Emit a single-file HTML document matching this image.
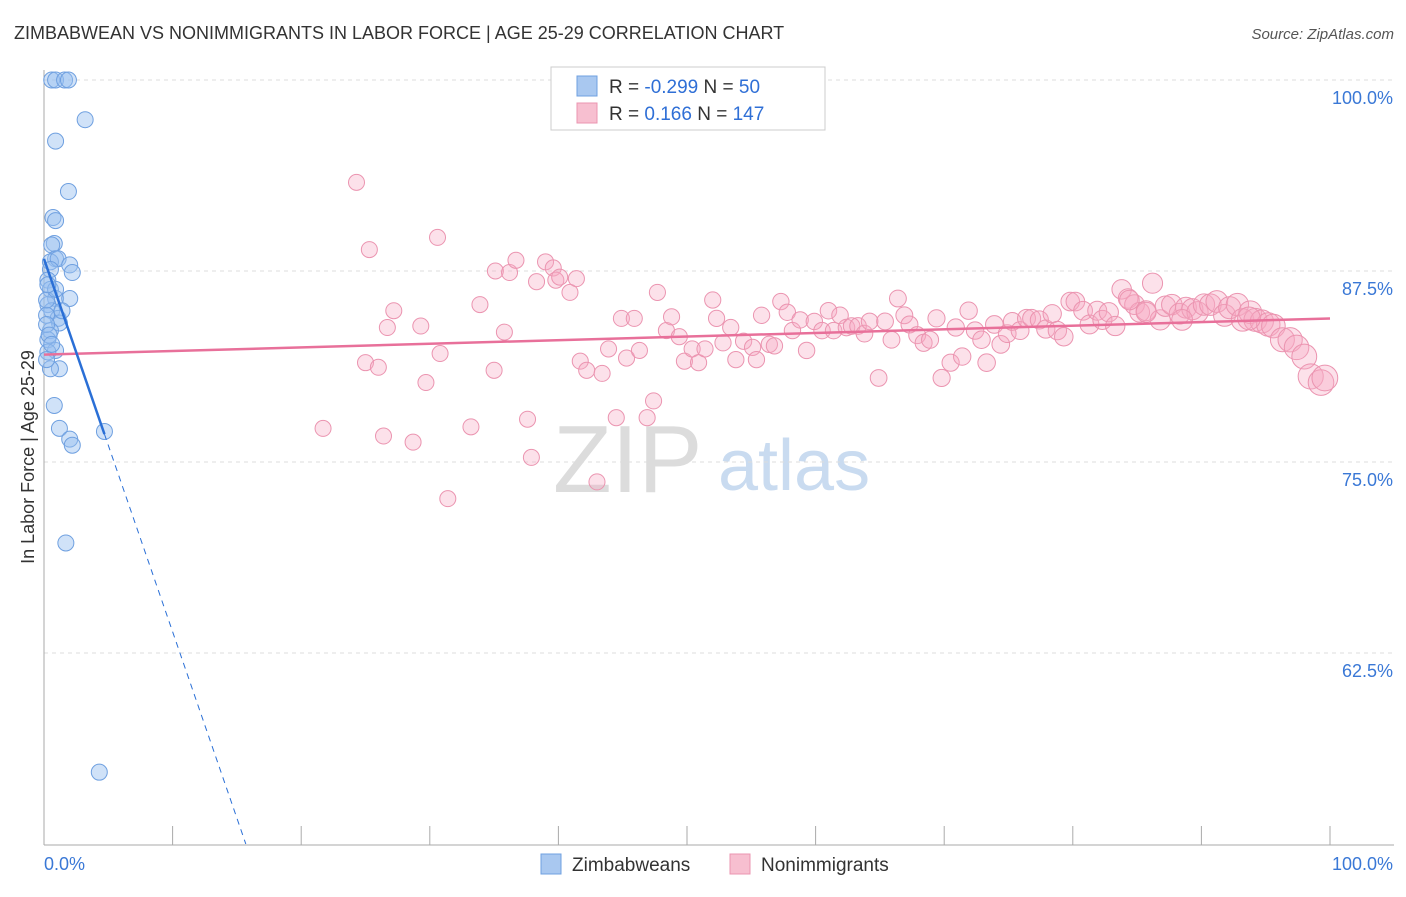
<!DOCTYPE html>
<html><head><meta charset="utf-8"><style>
body{margin:0;background:#fff;font-family:"Liberation Sans",sans-serif}
svg text{font-family:"Liberation Sans",sans-serif}
</style></head><body>
<svg id="c" width="1406" height="892" xmlns="http://www.w3.org/2000/svg">
<text x="14" y="39" font-size="18" fill="#333">ZIMBABWEAN VS NONIMMIGRANTS IN LABOR FORCE | AGE 25-29 CORRELATION CHART</text>
<text x="1394" y="39" font-size="15" fill="#555" text-anchor="end" font-style="italic">Source: ZipAtlas.com</text>
<g>
<text x="553" y="492" font-size="96" fill="#dcdcdc" font-family="Liberation Serif">ZIP</text>
<text x="718" y="490" font-size="72" fill="#c9dbf0">atlas</text>
</g>
<g id="grid"></g>
<g id="axes"></g>
<g id="pts"></g>
<g id="trends"></g>
<text transform="translate(34,457) rotate(-90)" font-size="18" fill="#333" text-anchor="middle">In Labor Force | Age 25-29</text>
<g>
<rect x="551" y="67" width="274" height="63" fill="#fff" stroke="#ccc"/>
<rect x="577" y="76" width="20" height="20" fill="#a9c8f0" stroke="#6fa0e0"/>
<rect x="577" y="103" width="20" height="20" fill="#f7bfd0" stroke="#eb94b0"/>
<text x="609" y="93" font-size="19" fill="#333">R = <tspan fill="#2f6fd6">-0.299</tspan>   N = <tspan fill="#2f6fd6"> 50</tspan></text>
<text x="609" y="120" font-size="19" fill="#333">R = <tspan fill="#2f6fd6">  0.166</tspan>   N = <tspan fill="#2f6fd6">147</tspan></text>
</g>
<g>
<rect x="541" y="854" width="20" height="20" fill="#a9c8f0" stroke="#6fa0e0"/>
<text x="572" y="871" font-size="19" fill="#333">Zimbabweans</text></g>
<g>
<rect x="730" y="854" width="20" height="20" fill="#f7bfd0" stroke="#eb94b0"/>
<text x="761" y="871" font-size="19" fill="#333">Nonimmigrants</text></g>
</svg>
<script>
const xTicks=[0,10,20,30,40,50,60,70,80,90,100];
const yTicks=[100,87.5,75,62.5];
const yTickLabels=["100.0%","87.5%","75.0%","62.5%"];
const xEndLabels=["0.0%","100.0%"];
const blueX=[.6,.9,1.6,1.9,3.2,.9,1.9,.7,.9,.8,.6,.9,.5,1.1,2.0,2.2,.5,.3,.5,.9,2.0,.3,.6,1.1,1.2,.2,.5,.3,.9,.3,1.2,.5,.8,1.2,2.0,2.2,4.7,1.7,4.3,.2,.2,.4,.6,.2,.9,1.4,.3];
const blueY=[100,100,100,100,97.4,96.0,92.7,91.0,90.8,89.3,89.2,88.3,88.1,88.3,87.9,87.4,87.6,86.9,86.3,85.7,85.7,85.3,84.9,84.4,84.1,84.6,83.6,83.0,82.3,82.2,81.1,81.1,78.7,77.2,76.5,76.1,77.0,69.7,54.7,84.0,85.6,83.3,82.7,81.7,86.3,84.9,86.6];
const pinkX=[24.3,25.3,30.6,27.2,26.7,29.3,25.0,26.0,29.7,30.8,21.7,26.4,28.7,31.4,33.2,33.9,35.0,35.8,35.1,36.2,36.7,38.3,39.0,39.6,39.8,40.1,40.9,41.4,37.6,37.9,41.7,42.2,43.4,43.0,44.5,46.9,47.4,43.9,45.3,44.9,45.9,46.3,47.7,48.4,48.8,49.4,49.8,50.4,50.9,51.4,52.0,52.3,52.8,53.4,53.8,54.4,55.1,55.4,55.8,56.4,56.8,57.3,57.8,58.2,58.8,59.3,59.9,60.5,61.0,61.4,61.9,62.4,62.8,63.3,63.8,64.2,64.9,65.4,65.9,66.4,66.9,67.3,67.9,68.4,68.9,69.4,69.8,70.5,70.9,71.4,71.9,72.4,72.9,73.3,73.9,74.4,74.9,75.3,75.9,76.4,76.8,77.4,77.9,78.4,78.8,79.3,79.8,80.2,80.8,81.3,81.9,82.3,82.8,83.3,83.8,84.3,84.8,85.2,85.7,86.2,86.8,87.2,87.7,88.3,88.8,89.3,89.7,90.2,90.7,91.2,91.8,92.2,92.8,93.2,93.8,94.2,94.7,95.2,95.6,96.3,96.9,97.4,98.0,98.5,99.3,99.6,84.4,85.7,88.5,93.7];
const pinkY=[93.3,88.9,89.7,84.9,83.8,83.9,81.5,81.2,80.2,82.1,77.2,76.7,76.3,72.6,77.3,85.3,81.0,83.5,87.5,87.4,88.2,86.8,88.1,87.7,86.9,87.1,86.1,87.0,77.8,75.3,81.6,81.0,80.8,73.7,77.9,77.9,79.0,82.4,81.8,84.4,84.4,82.3,86.1,83.6,84.5,83.2,81.6,82.4,81.5,82.4,85.6,84.4,82.8,83.8,81.7,82.9,82.5,81.7,84.6,82.7,82.6,85.5,84.8,83.6,84.3,82.3,84.2,83.6,84.9,83.6,84.6,83.8,83.9,83.9,83.4,84.2,80.5,84.2,83.0,85.7,84.6,84.0,83.3,82.8,83.0,84.4,80.5,81.5,83.8,81.9,84.9,83.6,83.0,81.5,84.0,82.7,83.4,84.2,83.6,84.4,84.4,84.3,83.7,84.7,83.6,83.2,85.5,85.5,84.9,84.0,84.9,84.3,84.8,83.9,86.3,85.7,85.3,84.8,84.9,86.7,84.3,85.2,85.3,84.7,85.1,85.0,84.8,85.3,85.3,85.5,84.6,85.1,85.3,84.3,84.8,84.3,84.2,84.0,83.9,83.0,83.0,82.5,81.9,80.6,80.2,80.5,85.6,84.8,84.3,84.4];
const NS="http://www.w3.org/2000/svg";
const X0=44,X1=1330,Y0=80,Y1=844,VMIN=50,VMAX=100;
const sx=v=>X0+(X1-X0)*v/100;
const sy=v=>Y0+(Y1-Y0)*(VMAX-v)/(VMAX-VMIN);
function mk(tag,attrs,parent){const e=document.createElementNS(NS,tag);for(const k in attrs)e.setAttribute(k,attrs[k]);parent.appendChild(e);return e;}
const grid=document.getElementById('grid'),axes=document.getElementById('axes');
yTicks.forEach((t,i)=>{
 const l=mk('line',{x1:X0,x2:1394,y1:sy(t),y2:sy(t),stroke:'#ddd','stroke-dasharray':'4,4'},grid);
 
 
 const tx=mk('text',{x:1393,y:sy(t)+24,'font-size':18,fill:'#3a78d6','text-anchor':'end'},axes);
 tx.textContent=yTickLabels[i];
 
 
});
mk('line',{x1:X0,x2:X0,y1:70,y2:845,stroke:'#aaa'},axes);
mk('line',{x1:X0,x2:1394,y1:845,y2:845,stroke:'#aaa'},axes);
xTicks.forEach(t=>{
 const l=mk('line',{x1:sx(t),x2:sx(t),y1:826,y2:845,stroke:'#aaa'},axes);
 
 
});
const xl0=mk('text',{x:44,y:870,'font-size':18,fill:'#3a78d6'},axes);xl0.textContent=xEndLabels[0];


const xl1=mk('text',{x:1393,y:870,'font-size':18,fill:'#3a78d6','text-anchor':'end'},axes);xl1.textContent=xEndLabels[1];


const pts=document.getElementById('pts');
pinkX.forEach((x,i)=>{
 const r=8+5*Math.pow(x/100,6);
 const c=mk('circle',{cx:sx(x),cy:sy(pinkY[i]),r:r,fill:'rgba(245,170,195,0.35)',stroke:'#eb94b0','stroke-width':1},pts);
 
 
});
blueX.forEach((x,i)=>{
 const c=mk('circle',{cx:sx(x),cy:sy(blueY[i]),r:8,fill:'rgba(150,190,240,0.45)',stroke:'#6fa0e0','stroke-width':1},pts);
 
 
});
function fit(xs,ys){const n=xs.length;let mx=0,my=0;for(let i=0;i<n;i++){mx+=xs[i];my+=ys[i];}mx/=n;my/=n;let a=0,b=0;for(let i=0;i<n;i++){a+=(xs[i]-mx)*(ys[i]-my);b+=(xs[i]-mx)**2;}const s=a/b;return [s,my-s*mx];}
const tr=document.getElementById('trends');
const [ps,pi]=fit(pinkX,pinkY);
const pl=mk('line',{x1:sx(0),y1:sy(pi),x2:sx(100),y2:sy(pi+ps*100),stroke:'#e8709a','stroke-width':2.5},tr);


const [bs,bi]=fit(blueX,blueY);
const xmaxB=Math.max(...blueX);
const bl=mk('line',{x1:sx(0),y1:sy(bi),x2:sx(xmaxB),y2:sy(bi+bs*xmaxB),stroke:'#2a6fd6','stroke-width':2.5},tr);


const xEnd=(VMIN-bi)/bs;
const bd=mk('line',{x1:sx(xmaxB),y1:sy(bi+bs*xmaxB),x2:sx(xEnd),y2:sy(VMIN),stroke:'#2a6fd6','stroke-width':1,'stroke-dasharray':'6,5'},tr);


</script>
</body></html>
